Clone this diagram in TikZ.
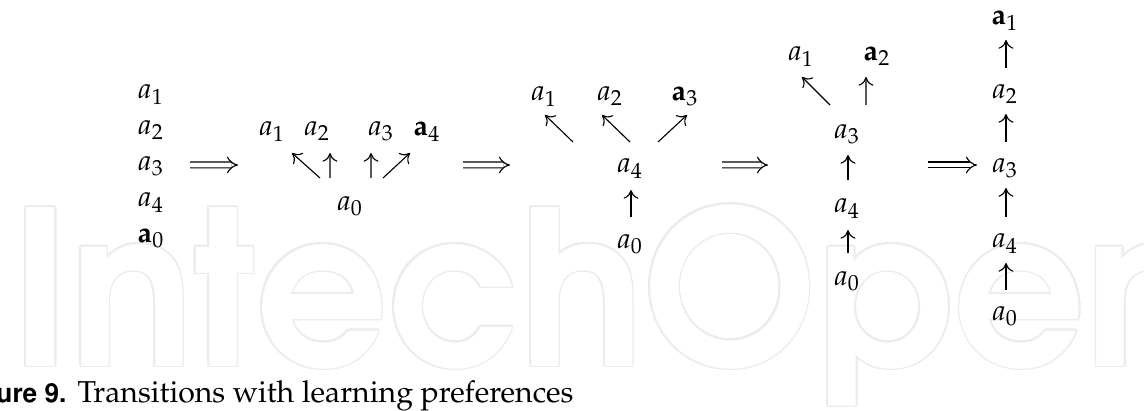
\documentclass[tikz,border=0pt]{standalone}
\usepackage[T1]{fontenc}
\usepackage{mathpazo}
\renewcommand{\sfdefault}{phv}
\usepackage[copies]{contour}
\usetikzlibrary{arrows.meta, positioning}

\contourlength{0.7pt}

\begin{document}
\begin{tikzpicture}[
        x=0.4pt, y=-0.4pt, on grid,
        elem/.style={inner sep=0pt, text height=1ex, text depth=0pt, font=\fontsize{11.5}{14}\selectfont},
        move/.style={line width=0.45pt, -{Computer Modern Rightarrow[width=6pt, length=3.5pt]}},
        trans/.style={line width=0.45pt, double, double distance=1.9pt, -{Implies}},
        stamp/.style={inner sep=0pt, anchor=base west, xscale=0.96, font=\fontsize{86}{86}\fontfamily{pag}\bfseries\selectfont}
    ]
    \useasboundingbox (0,0) rectangle (1144,411);
    % watermark
    \node[stamp] (mark) at (12,366) {\contour{gray!15}{\textcolor{white}{IntechOpen}}};

    % first stage
    \node[elem] (s1a1) at (151,93) {$a_1$};
    \node[elem, below=14.4pt of s1a1] (s1a2) {$a_2$};
    \node[elem, below=14.4pt of s1a2] (s1a3) {$a_3$};
    \node[elem, below=14.4pt of s1a3] (s1a4) {$a_4$};
    \node[elem, below=14.4pt of s1a4] (s1a0) {$\mathbf{a}_0$};

    % second stage
    \node[elem] (s2a0) at (350,205) {$a_0$};
    \node[elem] (s2a1) at (272,130) {$a_1$};
    \node[elem, right=18pt of s2a1] (s2a2) {$a_2$};
    \node[elem, right=25.6pt of s2a2] (s2a3) {$a_3$};
    \node[elem, right=18.4pt of s2a3] (s2a4) {$\mathbf{a}_4$};

    \draw[move] ([shift={(-30,-27)}]s2a0.center) -- ([shift={(20,23)}]s2a1.center);
    \draw[move] ([shift={(-20,-27)}]s2a0.center) -- ([shift={(13,23)}]s2a2.center);
    \draw[move] ([shift={(21,-27)}]s2a0.center) -- ([shift={(-10,23)}]s2a3.center);
    \draw[move] ([shift={(33,-27)}]s2a0.center) -- ([shift={(-17,23)}]s2a4.center);

    % third stage
    \node[elem] (s3a0) at (630,243) {$a_0$};
    \node[elem, above=30.4pt of s3a0] (s3a4) {$a_4$};
    \node[elem, above left=28.8pt and 8pt of s3a4] (s3a2) {$a_2$};
    \node[elem, left=26.4pt of s3a2] (s3a1) {$a_1$};
    \node[elem, right=30pt of s3a2] (s3a3) {$\mathbf{a}_3$};

    \draw[move] ([shift={(1,-26)}]s3a0.center) -- ([shift={(1,23)}]s3a4.center);
    \draw[move] ([shift={(-57,-25)}]s3a4.center) -- ([shift={(1,20)}]s3a1.center);
    \draw[move] ([shift={(0,-25)}]s3a4.center) -- ([shift={(-8,20)}]s3a2.center);
    \draw[move] ([shift={(28,-25)}]s3a4.center) -- ([shift={(2,20)}]s3a3.center);

    % fourth stage
    \node[elem] (s4a0) at (847,280) {$a_0$};
    \node[elem, above=29.2pt of s4a0] (s4a4) {$a_4$};
    \node[elem, above=29.6pt of s4a4] (s4a3) {$a_3$};
    \node[elem, above left=31.2pt and 18.4pt of s4a3] (s4a1) {$a_1$};
    \node[elem, right=30.4pt of s4a1] (s4a2) {$\mathbf{a}_2$};

    \draw[move] ([shift={(1,-27)}]s4a0.center) -- ([shift={(1,23)}]s4a4.center);
    \draw[move] ([shift={(1,-27)}]s4a4.center) -- ([shift={(1,22)}]s4a3.center);
    \draw[move] ([shift={(-17,-28)}]s4a3.center) -- ([shift={(1,22)}]s4a1.center);
    \draw[move] ([shift={(19,-28)}]s4a3.center) -- ([shift={(-11,22)}]s4a2.center);

    % last stage
    \node[elem] (s5a0) at (1005,315) {$a_0$};
    \node[elem, above=29.2pt of s5a0] (s5a4) {$a_4$};
    \node[elem, above=30pt of s5a4] (s5a3) {$a_3$};
    \node[elem, above=29.6pt of s5a3] (s5a2) {$a_2$};
    \node[elem, above=29.6pt of s5a2] (s5a1) {$\mathbf{a}_1$};

    \draw[move] ([shift={(1,-25)}]s5a0.center) -- ([shift={(1,21)}]s5a4.center);
    \draw[move] ([shift={(1,-25)}]s5a4.center) -- ([shift={(1,21)}]s5a3.center);
    \draw[move] ([shift={(1,-25)}]s5a3.center) -- ([shift={(1,21)}]s5a2.center);
    \draw[move] ([shift={(1,-25)}]s5a2.center) -- ([shift={(1,21)}]s5a1.center);

    % transitions
    \draw[trans] ([shift={(39,0)}]s1a3.center) -- ([shift={(-112,-40)}]s2a0.center);
    \draw[trans] ([shift={(36,35)}]s2a4.center) -- ([shift={(-120,-2)}]s3a4.center);
    \draw[trans] ([shift={(92,-2)}]s3a4.center) -- ([shift={(-79,32)}]s4a3.center);
    \draw[trans] ([shift={(81,32)}]s4a3.center) -- ([shift={(-28,-2)}]s5a3.center);

    % caption
    \node[anchor=base east, inner sep=0pt, font=\fontsize{10.5}{13}\sffamily\bfseries] (capnum) at (67,403) {ure 9.};
    \node[anchor=base west, inner sep=0pt, font=\fontsize{12.1}{14}\selectfont] (captext) at (77,403) {Transitions with learning preferences};
\end{tikzpicture}
\end{document}
